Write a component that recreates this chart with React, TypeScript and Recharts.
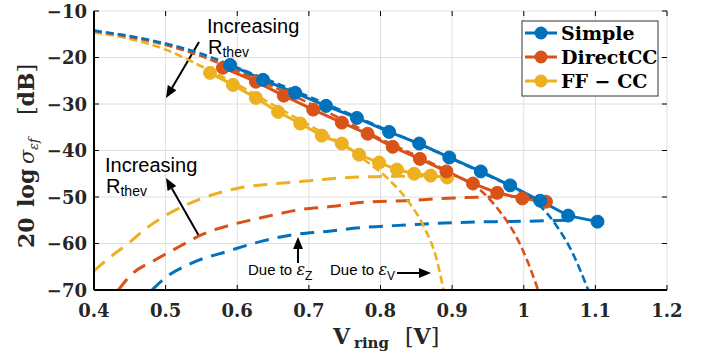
import { CartesianGrid, Customized, Line, LineChart, XAxis, YAxis } from 'recharts';

const BLUE = '#0072BD';
const RED = '#D95319';
const YELLOW = '#EDB120';
const SERIF = '"DejaVu Serif", serif';
const SANS = '"Liberation Sans", Arial, sans-serif';
const INK = '#262626';

const PLOT_TOP = 11;
const PLOT_RIGHT = 667;

// axis ticks
const xTicks = [0.4, 0.5, 0.6, 0.7, 0.8, 0.9, 1, 1.1, 1.2];
const yTicks = [-70, -60, -50, -40, -30, -20, -10];

// simulated points (markers)
const simpleV = [0.59, 0.636, 0.681, 0.724, 0.767, 0.812, 0.854, 0.896, 0.94, 0.981, 1.023, 1.062, 1.103];
const simpleDb = [-21.6, -24.8, -27.6, -30.4, -33.0, -36.0, -38.5, -41.5, -44.5, -47.5, -50.8, -54.0, -55.3];

const directV = [0.58, 0.626, 0.665, 0.706, 0.746, 0.782, 0.817, 0.855, 0.892, 0.929, 0.963, 0.998, 1.031];
const directDb = [-22.2, -25.2, -28.2, -31.2, -34.0, -36.4, -39.2, -41.8, -44.5, -47.1, -49.1, -50.3, -51.0];

const ffV = [0.562, 0.594, 0.626, 0.657, 0.688, 0.718, 0.746, 0.77, 0.798, 0.823, 0.847, 0.87, 0.893];
const ffDb = [-23.3, -25.9, -28.7, -31.7, -34.2, -36.8, -38.5, -40.9, -42.6, -44.1, -45.0, -45.4, -45.8];

// model: contribution due to eps_V (falls off at high V)
const simpleVV = [0.4, 0.45, 0.5, 0.55, 0.6, 0.7, 0.8, 0.9, 0.95, 1.0, 1.02, 1.045, 1.068, 1.09];
const simpleVDb = [-14.2, -15.4, -17.0, -19.2, -22.2, -28.4, -35.0, -41.8, -45.4, -49.2, -51.5, -56.0, -62.0, -70];

const directVV = [0.4, 0.45, 0.5, 0.55, 0.6, 0.7, 0.8, 0.9, 0.94, 0.965, 0.988, 1.006, 1.02];
const directVDb = [-14.3, -15.6, -17.3, -19.7, -22.9, -29.8, -37.5, -45.0, -48.6, -52.8, -58.1, -64.1, -70];

const ffVV = [0.4, 0.45, 0.5, 0.55, 0.6, 0.65, 0.7, 0.75, 0.78, 0.81, 0.837, 0.86, 0.878, 0.888];
const ffVDb = [-14.6, -16.0, -18.3, -21.9, -25.8, -30.2, -34.5, -39.0, -42.3, -46.0, -50.6, -56.2, -63.2, -70];

// model: contribution due to eps_Z (rises with V)
const simpleZV = [0.481, 0.497, 0.538, 0.586, 0.632, 0.678, 0.725, 0.771, 0.84, 0.904, 0.96, 1.006, 1.06];
const simpleZDb = [-70, -67.7, -64.1, -61.7, -59.6, -58.1, -57.4, -56.6, -56.0, -55.5, -55.3, -55.2, -55.0];

const directZV = [0.434, 0.45, 0.487, 0.52, 0.552, 0.594, 0.641, 0.688, 0.734, 0.771, 0.834, 0.904, 0.95, 0.99];
const directZDb = [-70, -67.0, -63.4, -60.6, -58.0, -55.9, -54.2, -52.7, -52.0, -51.2, -50.8, -50.2, -50.0, -49.9];

const ffZV = [0.4, 0.422, 0.446, 0.474, 0.502, 0.53, 0.566, 0.604, 0.641, 0.688, 0.734, 0.771, 0.81, 0.86];
const ffZDb = [-65.9, -63.0, -60.2, -56.6, -53.8, -51.6, -49.5, -48.0, -47.3, -46.7, -46.0, -45.7, -45.6, -45.5];

const pts = (xs: number[], ys: number[]) => xs.map((x, i) => ({ x, y: ys[i] }));

const fmtX = (v: number) => String(v);
const fmtY = (v: number) => (v < 0 ? `\u2212${Math.abs(v)}` : String(v));

const renderXTick = (props: any) => {
  const { x, y, payload } = props;
  return (
    <g>
      <line x1={x} x2={x} y1={y} y2={y - 5} stroke="#000" />
      <line x1={x} x2={x} y1={PLOT_TOP} y2={PLOT_TOP + 5} stroke="#000" />
      <text x={x} y={y + 27} textAnchor="middle" fontFamily={SERIF} fontWeight="bold" fontSize={18} fill={INK}>
        {fmtX(payload.value)}
      </text>
    </g>
  );
};

const renderYTick = (props: any) => {
  const { x, y, payload } = props;
  return (
    <g>
      <line x1={x} x2={x + 5} y1={y} y2={y} stroke="#000" />
      <line x1={PLOT_RIGHT} x2={PLOT_RIGHT - 5} y1={y} y2={y} stroke="#000" />
      <text x={x - 7} y={y + 6.5} textAnchor="end" fontFamily={SERIF} fontWeight="bold" fontSize={18} fill={INK}>
        {fmtY(payload.value)}
      </text>
    </g>
  );
};

function Arrow({ x1, y1, x2, y2 }: { x1: number; y1: number; x2: number; y2: number }) {
  const a = Math.atan2(y2 - y1, x2 - x1);
  const len = 12;
  const w = 5;
  const bx = x2 - len * Math.cos(a);
  const by = y2 - len * Math.sin(a);
  const p1 = `${bx + w * Math.sin(a)},${by - w * Math.cos(a)}`;
  const p2 = `${bx - w * Math.sin(a)},${by + w * Math.cos(a)}`;
  return (
    <g>
      <line x1={x1} y1={y1} x2={bx} y2={by} stroke="#000" strokeWidth={2} />
      <polygon points={`${x2},${y2} ${p1} ${p2}`} fill="#000" />
    </g>
  );
}

const legendItems = [
  { label: 'Simple', color: BLUE },
  { label: 'DirectCC', color: RED },
  { label: 'FF \u2212 CC', color: YELLOW },
];

function Overlay() {
  return (
    <g>
      {/* annotations */}
      <text x={207} y={33} fontFamily={SANS} fontSize={20} fill="#000">Increasing</text>
      <text x={208} y={54} fontFamily={SANS} fontSize={20} fill="#000">
        R<tspan fontSize={14} dy={3}>thev</tspan>
      </text>
      <Arrow x1={199} y1={42} x2={166} y2={98} />

      <text x={105} y={172} fontFamily={SANS} fontSize={20} fill="#000">Increasing</text>
      <text x={106} y={193} fontFamily={SANS} fontSize={20} fill="#000">
        R<tspan fontSize={14} dy={3}>thev</tspan>
      </text>
      <Arrow x1={199} y1={236} x2={166} y2={178} />

      <text x={248} y={275} fontFamily={SANS} fontSize={15} fill="#000">
        Due to <tspan fontFamily={SERIF} fontStyle="italic" fontSize={16}>ε</tspan>
        <tspan fontSize={12} dy={5}>Z</tspan>
      </text>
      <Arrow x1={298} y1={263} x2={298} y2={237} />

      <text x={330} y={275} fontFamily={SANS} fontSize={15} fill="#000">
        Due to <tspan fontFamily={SERIF} fontStyle="italic" fontSize={16}>ε</tspan>
        <tspan fontSize={12} dy={5}>V</tspan>
      </text>
      <Arrow x1={397} y1={273} x2={431} y2={273} />

      {/* legend */}
      <rect x={522} y={21} width={136} height={75} fill="#fff" stroke="#555" strokeWidth={1.2} />
      {legendItems.map((it, i) => {
        const cy = 33 + i * 24;
        return (
          <g key={it.label}>
            <line x1={525} x2={557} y1={cy} y2={cy} stroke={it.color} strokeWidth={3} />
            <circle cx={541} cy={cy} r={6.5} fill={it.color} />
            <text x={561} y={cy + 6.5} fontFamily={SERIF} fontWeight="bold" fontSize={19} fill="#000">
              {it.label}
            </text>
          </g>
        );
      })}

      {/* x axis title */}
      <g fontFamily={SERIF} fill={INK}>
        <text x={333} y={344} fontSize={22} fontWeight="bold">V</text>
        <text x={354} y={348} fontSize={15} fontWeight="bold">ring</text>
        <text x={405} y={344} fontSize={22}>
          [<tspan fontWeight="bold">V</tspan>]
        </text>
      </g>

      {/* y axis title (rotated) */}
      <g transform="translate(34,0) rotate(-90)" fontFamily={SERIF} fill={INK}>
        <text x={-248} y={0} fontSize={22} fontWeight="bold">20</text>
        <text x={-207} y={0} fontSize={22} fontWeight="bold">log</text>
        <text x={-164} y={0} fontSize={21} fontStyle="italic">σ</text>
        <text x={-150} y={4} fontSize={13} fontStyle="italic">εf</text>
        <text x={-115} y={0} fontSize={22}>
          [<tspan fontWeight="bold">dB</tspan>]
        </text>
      </g>
    </g>
  );
}

export default function App() {
  const dash = (color: string, data: { x: number; y: number }[], pattern: string, w: number, key: string) => (
    <Line
      key={key}
      data={data}
      dataKey="y"
      type="monotone"
      stroke={color}
      strokeWidth={w}
      strokeDasharray={pattern}
      dot={false}
      activeDot={false}
      isAnimationActive={false}
    />
  );
  const solid = (color: string, data: { x: number; y: number }[], key: string) => (
    <Line
      key={key}
      data={data}
      dataKey="y"
      type="linear"
      stroke={color}
      strokeWidth={3}
      dot={{ r: 6.5, fill: color, stroke: color, strokeWidth: 1 }}
      activeDot={false}
      isAnimationActive={false}
    />
  );

  return (
    <div style={{ width: 715, height: 358 }}>
      <style>{'body{margin:0}'}</style>
      <LineChart width={715} height={358} margin={{ top: PLOT_TOP, right: 715 - PLOT_RIGHT, bottom: 0, left: 0 }}>
        <CartesianGrid stroke="#dedede" strokeWidth={1} />
        <XAxis
          dataKey="x"
          type="number"
          domain={[0.4, 1.2]}
          ticks={xTicks}
          height={68}
          tickSize={0}
          tickMargin={0}
          tickLine={false}
          tick={renderXTick}
          axisLine={{ stroke: '#000', strokeWidth: 2 }}
          allowDataOverflow
        />
        <XAxis
          xAxisId="top"
          orientation="top"
          type="number"
          domain={[0.4, 1.2]}
          height={0}
          tick={false}
          tickLine={false}
          axisLine={{ stroke: '#000', strokeWidth: 2 }}
        />
        <YAxis
          type="number"
          domain={[-70, -10]}
          ticks={yTicks}
          width={94}
          tickSize={0}
          tickMargin={0}
          tickLine={false}
          tick={renderYTick}
          axisLine={{ stroke: '#000', strokeWidth: 2 }}
          allowDataOverflow
        />
        <YAxis
          yAxisId="right"
          orientation="right"
          type="number"
          domain={[-70, -10]}
          width={0}
          tick={false}
          tickLine={false}
          axisLine={{ stroke: '#000', strokeWidth: 2 }}
        />
        {dash(YELLOW, pts(ffZV, ffZDb), '14 9', 3, 'ffZ')}
        {dash(RED, pts(directZV, directZDb), '14 9', 3, 'directZ')}
        {dash(BLUE, pts(simpleZV, simpleZDb), '14 9', 3, 'simpleZ')}
        {dash(YELLOW, pts(ffVV, ffVDb), '8 4', 2.6, 'ffV')}
        {dash(RED, pts(directVV, directVDb), '8 4', 2.6, 'directV')}
        {dash(BLUE, pts(simpleVV, simpleVDb), '8 4', 2.6, 'simpleV')}
        {solid(YELLOW, pts(ffV, ffDb), 'ff')}
        {solid(RED, pts(directV, directDb), 'direct')}
        {solid(BLUE, pts(simpleV, simpleDb), 'simple')}
        <Customized component={<Overlay />} />
      </LineChart>
    </div>
  );
}
